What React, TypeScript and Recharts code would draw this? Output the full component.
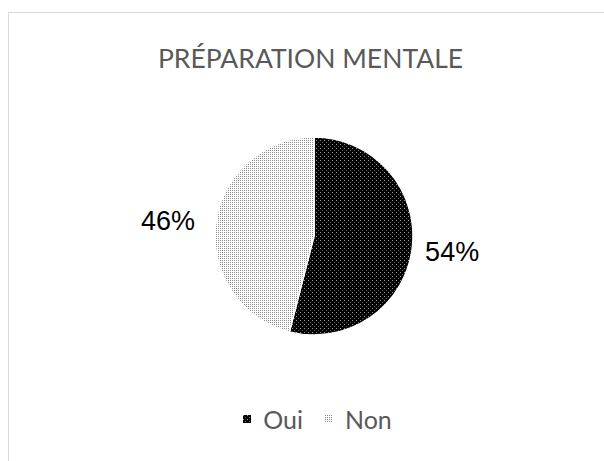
import { PieChart, Pie, Cell, Legend } from "recharts";

const categories = ["Oui", "Non"];
const values = [54, 46];
const labels = ["54%", "46%"];
const patternIds = ["patOui", "patNon"];

const data = categories.map((name, i) => ({
  name,
  value: values[i],
  label: labels[i],
  fill: `url(#${patternIds[i]})`,
}));

const RADIAN = Math.PI / 180;

function renderLabel(props: any) {
  const { cx, cy, midAngle, outerRadius, index } = props;
  const right = Math.cos(-midAngle * RADIAN) > 0;
  const r = outerRadius + (right ? 13 : 21);
  const x = cx + r * Math.cos(-midAngle * RADIAN);
  const y = cy + r * Math.sin(-midAngle * RADIAN) + (right ? 2 : 0);
  return (
    <text
      x={x}
      y={y}
      textAnchor={right ? "start" : "end"}
      dominantBaseline="central"
      fontFamily="'Liberation Sans', Arial, sans-serif"
      fontSize={27}
      fill="#000"
    >
      {data[index].label}
    </text>
  );
}

function LegendContent() {
  return (
    <div
      style={{
        display: "flex",
        justifyContent: "center",
        alignItems: "center",
        fontFamily: "Lato, sans-serif",
        fontSize: 25,
        color: "#595959",
      }}
    >
      {data.map((d, i) => (
        <div
          key={d.name}
          style={{ display: "flex", alignItems: "center", marginRight: i === 0 ? 22 : 0 }}
        >
          <svg width={8} height={8} style={{ marginRight: 12 }}>
            <rect width={8} height={8} fill={d.fill} />
          </svg>
          <span>{d.name}</span>
        </div>
      ))}
    </div>
  );
}

export default function App() {
  return (
    <div style={{ position: "relative", width: 604, height: 461, background: "#fff" }}>
      <style>{"body{margin:0;overflow:hidden}"}</style>
      <div
        style={{
          position: "absolute",
          left: 8,
          top: 12,
          width: 610,
          height: 470,
          borderTop: "1px solid #d9d9d9",
          borderLeft: "1px solid #d9d9d9",
        }}
      />
      <div
        style={{
          position: "absolute",
          left: 0,
          top: 42,
          width: 621,
          textAlign: "center",
          fontFamily: "Lato, sans-serif",
          fontSize: 26.5,
          color: "#595959",
        }}
      >
        PRÉPARATION MENTALE
      </div>
      <div style={{ position: "absolute", left: 0, top: 0 }}>
        <PieChart width={604} height={461}>
          <defs>
            <pattern id="patOui" width={4} height={4} patternUnits="userSpaceOnUse">
              <rect width={4} height={4} fill="#000" />
              <rect x={0} y={0} width={1} height={1} fill="#9a9a9a" />
              <rect x={2} y={2} width={1} height={1} fill="#5a5a5a" />
            </pattern>
            <pattern id="patNon" width={2} height={2} patternUnits="userSpaceOnUse">
              <rect width={2} height={2} fill="#fff" />
              <rect x={0} y={0} width={1} height={1} fill="#8c8c8c" />
            </pattern>
          </defs>
          <Pie
            data={data}
            dataKey="value"
            nameKey="name"
            cx={309}
            cy={231}
            outerRadius={99}
            startAngle={90}
            endAngle={-270}
            stroke="#fff"
            strokeWidth={1.5}
            label={renderLabel}
            labelLine={false}
            isAnimationActive={false}
          >
            {data.map((d) => (
              <Cell key={d.name} fill={d.fill} />
            ))}
          </Pie>
          <Legend
            content={<LegendContent />}
            wrapperStyle={{ position: "absolute", left: 0, top: 404, width: 635 }}
          />
        </PieChart>
      </div>
    </div>
  );
}
